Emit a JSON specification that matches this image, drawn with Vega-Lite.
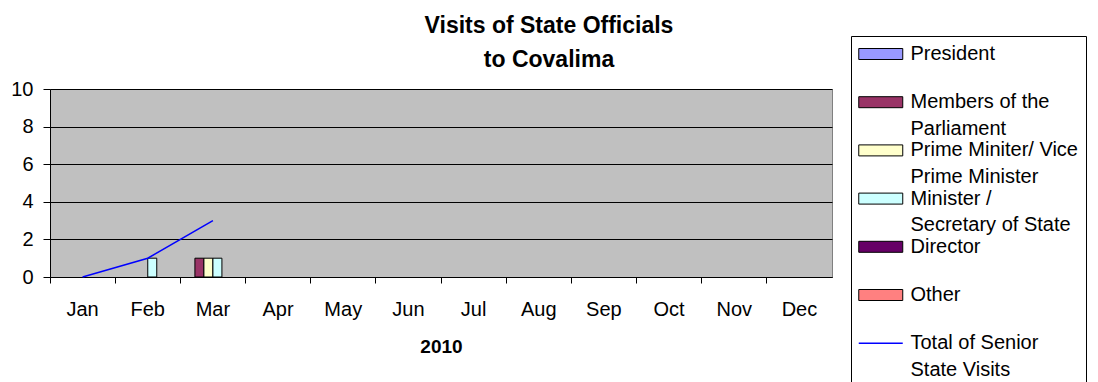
{
  "$schema": "https://vega.github.io/schema/vega-lite/v6.json",
  "width": 782,
  "height": 188,
  "autosize": {"type": "none"},
  "padding": {"left": 50, "top": 89, "right": 266, "bottom": 105},
  "background": "white",
  "title": {
    "text": ["Visits of State Officials", "to Covalima"],
    "fontSize": 23,
    "fontWeight": "bold",
    "font": "Liberation Sans",
    "lineHeight": 34,
    "anchor": "middle",
    "dx": 108,
    "dy": 60,
    "offset": 24,
    "color": "black"
  },
  "config": {
    "view": {"fill": "#C0C0C0", "stroke": "#808080"},
    "font": "Liberation Sans"
  },
  "datasets": {
    "bars": [
      {"month": "Feb", "series": "Minister / Secretary of State", "value": 1},
      {"month": "Mar", "series": "Members of the Parliament", "value": 1},
      {"month": "Mar", "series": "Prime Miniter/ Vice Prime Minister", "value": 1},
      {"month": "Mar", "series": "Minister / Secretary of State", "value": 1}
    ],
    "total": [
      {"month": "Jan", "series": "Total of Senior State Visits", "value": 0},
      {"month": "Feb", "series": "Total of Senior State Visits", "value": 1},
      {"month": "Mar", "series": "Total of Senior State Visits", "value": 3}
    ]
  },
  "encoding": {
    "x": {
      "field": "month",
      "type": "nominal",
      "sort": null,
      "scale": {
        "domain": ["Jan", "Feb", "Mar", "Apr", "May", "Jun", "Jul", "Aug", "Sep", "Oct", "Nov", "Dec"],
        "paddingInner": 0,
        "paddingOuter": 0
      },
      "axis": {
        "title": "2010",
        "bandPosition": 0,
        "labelAngle": 0,
        "tickSize": 6,
        "tickColor": "black",
        "domainColor": "black",
        "labelFontSize": 20,
        "labelColor": "black",
        "labelPadding": 16,
        "titleFontSize": 19,
        "titleFontWeight": "bold",
        "titleColor": "black",
        "titlePadding": 18,
        "grid": false
      }
    },
    "y": {
      "field": "value",
      "type": "quantitative",
      "scale": {"domain": [0, 10], "nice": false},
      "axis": {
        "title": null,
        "values": [0, 2, 4, 6, 8, 10],
        "tickSize": 7,
        "tickColor": "black",
        "domainColor": "black",
        "grid": true,
        "gridColor": "black",
        "gridOpacity": 1,
        "labelFontSize": 20,
        "labelColor": "black",
        "labelPadding": 10
      }
    }
  },
  "layer": [
    {
      "data": {"name": "bars"},
      "mark": {"type": "bar", "stroke": "black", "strokeWidth": 1, "opacity": 1},
      "encoding": {
        "xOffset": {
          "field": "series",
          "type": "nominal",
          "scale": {
            "domain": ["President", "Members of the Parliament", "Prime Miniter/ Vice Prime Minister", "Minister / Secretary of State", "Director", "Other"],
            "paddingInner": 0,
            "paddingOuter": 0.62
          }
        },
        "color": {
          "field": "series",
          "type": "nominal",
          "scale": {
            "domain": ["President", "Members of the Parliament", "Prime Miniter/ Vice Prime Minister", "Minister / Secretary of State", "Director", "Other", "Total of Senior State Visits"],
            "range": ["#9999FF", "#993366", "#FFFFCC", "#CCFFFF", "#660066", "#FF8080", "#0000FF"]
          },
          "legend": {
            "orient": "none",
            "legendX": 801,
            "legendY": -53,
            "title": null,
            "strokeColor": "black",
            "padding": 8,
            "labelFontSize": 20,
            "labelColor": "black",
            "labelFont": "Liberation Sans",
            "symbolSize": 121,
            "symbolOffset": 11.75,
            "labelOffset": 19.75,
            "rowPadding": 1.2,
            "labelLimit": 500,
            "labelExpr": "datum.label == 'President' ? ['President', ''] : datum.label == 'Members of the Parliament' ? ['Members of the', 'Parliament'] : datum.label == 'Prime Miniter/ Vice Prime Minister' ? ['Prime Miniter/ Vice', 'Prime Minister'] : datum.label == 'Minister / Secretary of State' ? ['Minister /', 'Secretary of State'] : datum.label == 'Director' ? ['Director', ''] : datum.label == 'Other' ? ['Other', ''] : ['Total of Senior', 'State Visits', '']",
            "encode": {
              "symbols": {
                "update": {
                  "shape": {"signal": "datum.value == 'Total of Senior State Visits' ? 'M-4,0H4' : 'M-4,-1H4V1H-4Z'"},
                  "strokeWidth": {"signal": "datum.value == 'Total of Senior State Visits' ? 1.5 : 1"},
                  "opacity": {"value": 1},
                  "fillOpacity": {"value": 1}
                }
              },
              "labels": {
                "update": {"lineHeight": {"value": 26.7}}
              }
            }
          }
        }
      }
    },
    {
      "data": {"name": "total"},
      "mark": {"type": "line", "strokeWidth": 1.5},
      "encoding": {
        "stroke": {
          "field": "series",
          "type": "nominal",
          "scale": {
            "domain": ["President", "Members of the Parliament", "Prime Miniter/ Vice Prime Minister", "Minister / Secretary of State", "Director", "Other", "Total of Senior State Visits"],
            "range": ["black", "black", "black", "black", "black", "black", "#0000FF"]
          },
          "legend": {
            "orient": "none",
            "legendX": 801,
            "legendY": -53,
            "title": null,
            "strokeColor": "black",
            "padding": 8,
            "labelFontSize": 20,
            "labelColor": "black",
            "labelFont": "Liberation Sans",
            "symbolSize": 121,
            "symbolOffset": 11.75,
            "labelOffset": 19.75,
            "rowPadding": 1.2,
            "labelLimit": 500,
            "labelExpr": "datum.label == 'President' ? ['President', ''] : datum.label == 'Members of the Parliament' ? ['Members of the', 'Parliament'] : datum.label == 'Prime Miniter/ Vice Prime Minister' ? ['Prime Miniter/ Vice', 'Prime Minister'] : datum.label == 'Minister / Secretary of State' ? ['Minister /', 'Secretary of State'] : datum.label == 'Director' ? ['Director', ''] : datum.label == 'Other' ? ['Other', ''] : ['Total of Senior', 'State Visits', '']",
            "encode": {
              "symbols": {
                "update": {
                  "shape": {"signal": "datum.value == 'Total of Senior State Visits' ? 'M-4,0H4' : 'M-4,-1H4V1H-4Z'"},
                  "strokeWidth": {"signal": "datum.value == 'Total of Senior State Visits' ? 1.5 : 1"},
                  "opacity": {"value": 1},
                  "fillOpacity": {"value": 1}
                }
              },
              "labels": {
                "update": {"lineHeight": {"value": 26.7}}
              }
            }
          }
        }
      }
    }
  ]
}
